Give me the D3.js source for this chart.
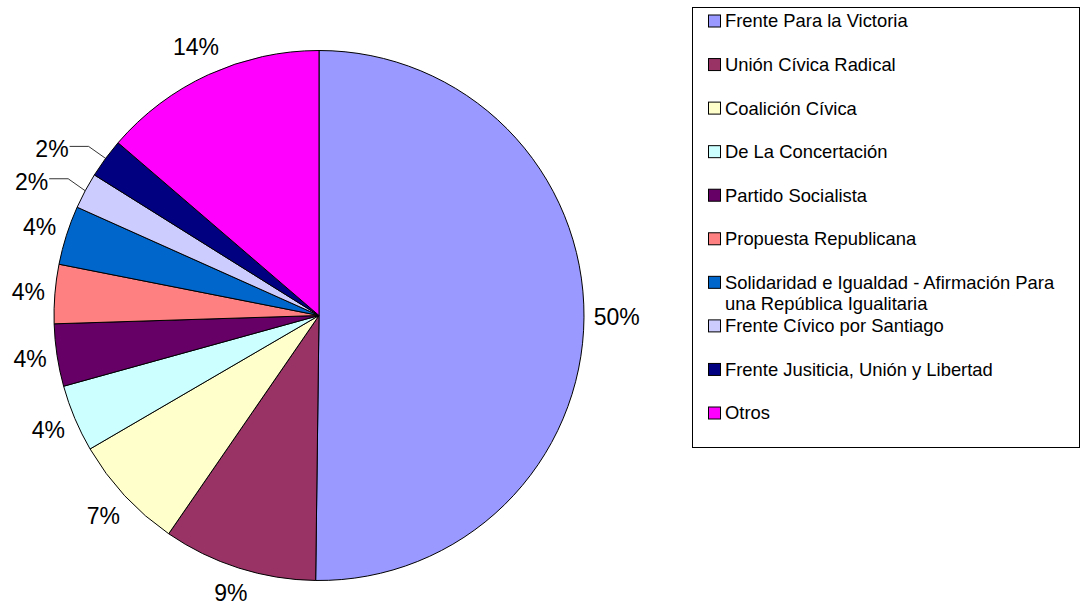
<!DOCTYPE html>
<html>
<head>
<meta charset="utf-8">
<script src="https://cdn.jsdelivr.net/npm/d3@7"></script>
<style>
  body { margin: 0; background: #fff; }
  svg { display: block; font-family: "Liberation Sans", Arial, sans-serif; }
</style>
</head>
<body>
<svg id="chart" width="1081" height="608"></svg>
<script>
// Data (percent of votes)
const parties = [
    "Frente Para la Victoria",
    "Unión Cívica Radical",
    "Coalición Cívica",
    "De La Concertación",
    "Partido Socialista",
    "Propuesta Republicana",
    "Solidaridad e Igualdad - Afirmación Para una República Igualitaria",
    "Frente Cívico por Santiago",
    "Frente Jusiticia, Unión y Libertad",
    "Otros"
];
const shares = [50.2, 9.4, 7.0, 4.1, 3.8, 3.6, 3.6, 2.2, 2.4, 13.7];
const colors = ["#9999FF", "#993366", "#FFFFCC", "#CCFFFF", "#660066",
                "#FF8080", "#0066CC", "#CCCCFF", "#000080", "#FF00FF"];
// legend lines (the long name wraps in two)
const legendLines = [
    ["Frente Para la Victoria"],
    ["Unión Cívica Radical"],
    ["Coalición Cívica"],
    ["De La Concertación"],
    ["Partido Socialista"],
    ["Propuesta Republicana"],
    ["Solidaridad e Igualdad - Afirmación Para", "una República Igualitaria"],
    ["Frente Cívico por Santiago"],
    ["Frente Jusiticia, Unión y Libertad"],
    ["Otros"]
];
// labels pulled out with a leader line
const leaderLabels = [7, 8];

const svg = d3.select("#chart");
const cx = 319, cy = 315.5, radius = 265;

const data = parties.map((p, i) => ({ name: p, value: shares[i], color: colors[i], idx: i }));

const pie = d3.pie().sort(null).value(d => d.value);
const arcs = pie(data);
const arc = d3.arc().innerRadius(0).outerRadius(radius);

const g = svg.append("g").attr("transform", `translate(${cx},${cy})`);

g.selectAll("path.slice")
    .data(arcs)
    .enter()
    .append("path")
    .attr("class", "slice")
    .attr("d", arc)
    .attr("fill", d => d.data.color)
    .attr("stroke", "#000")
    .attr("stroke-width", 1);

// Percent labels
const fontSize = 23;
const labels = g.append("g").style("font-size", fontSize + "px").attr("fill", "#000");

arcs.forEach(d => {
    const mid = (d.startAngle + d.endAngle) / 2;
    const s = Math.sin(mid), c = -Math.cos(mid);
    const txt = Math.round(d.data.value) + "%";
    const hw = txt.length * fontSize * 0.3;
    const hh = fontSize * 0.45;
    if (leaderLabels.includes(d.data.idx)) {
        // point on the rim, then a short diagonal and a horizontal run to the label
        const ex = radius * s, ey = radius * c;
        const kx = ex - 17, ky = ey - 12;
        const lx = kx - 19;
        g.append("polyline")
            .attr("points", `${ex},${ey} ${kx},${ky} ${lx},${ky}`)
            .attr("fill", "none")
            .attr("stroke", "#000")
            .attr("stroke-width", 0.8);
        labels.append("text")
            .attr("x", lx - 1)
            .attr("y", ky + 3)
            .attr("text-anchor", "end")
            .attr("dominant-baseline", "central")
            .text(txt);
    } else {
        const rr = radius + 12 + hw * Math.abs(s) + hh * Math.abs(c);
        labels.append("text")
            .attr("x", rr * s)
            .attr("y", rr * c)
            .attr("text-anchor", "middle")
            .attr("dominant-baseline", "central")
            .text(txt);
    }
});

// Legend
const legend = svg.append("g");
legend.append("rect")
    .attr("x", 692.5).attr("y", 7.5)
    .attr("width", 387).attr("height", 440)
    .attr("fill", "#fff")
    .attr("stroke", "#000")
    .attr("stroke-width", 1);

const rowY = d3.scaleLinear().domain([0, parties.length - 1]).range([21, 413]);

const items = legend.selectAll("g.item")
    .data(data)
    .enter()
    .append("g")
    .attr("class", "item")
    .attr("transform", (d, i) => `translate(708,${rowY(i)})`);

items.append("rect")
    .attr("x", 0.5).attr("y", -6)
    .attr("width", 12).attr("height", 12)
    .attr("fill", d => d.color)
    .attr("stroke", "#000")
    .attr("stroke-width", 1);

items.each(function(d, i) {
    const t = d3.select(this).append("text")
        .attr("x", 17)
        .attr("y", 0)
        .style("font-size", "18.4px")
        .attr("fill", "#000");
    legendLines[i].forEach((line, j) => {
        t.append("tspan")
            .attr("x", 17)
            .attr("dy", j === 0 ? "0.35em" : "1.15em")
            .text(line);
    });
});
</script>
</body>
</html>
